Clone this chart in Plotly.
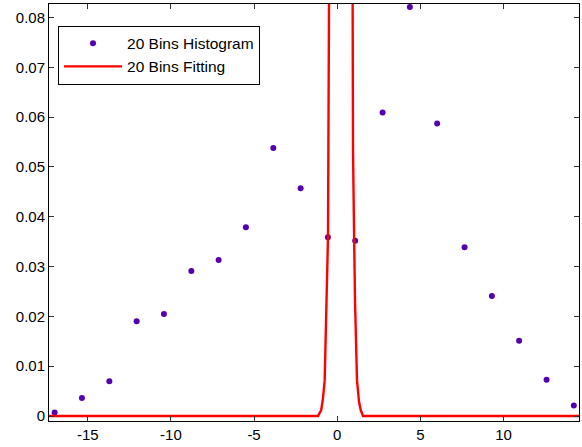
import plotly.graph_objects as go

# 20-bin histogram: bin centres and normalised counts
bin_centers = [-16.99, -15.35, -13.70, -12.06, -10.42, -8.77, -7.13, -5.49, -3.84, -2.20,
               -0.56, 1.08, 2.73, 4.37, 6.01, 7.66, 9.30, 10.94, 12.59, 14.23]
hist_values = [0.0007, 0.0036, 0.0070, 0.0190, 0.0205, 0.0291, 0.0313, 0.0379, 0.0538, 0.0457,
               0.0359, 0.0352, 0.0609, 0.0821, 0.0587, 0.0339, 0.0241, 0.0151, 0.0073, 0.0021]

# fitted density sampled along x (peak runs far above the visible range)
fit_x = [-17.33, -1.155, -0.962, -0.854, -0.752, -0.65, -0.553, -0.493, -0.445, 0.25,
         0.90, 0.95, 0.95, 1.02, 1.07, 1.19, 1.311, 1.413, 1.551, 14.54]
fit_y = [0.0, 0.0, 0.0012, 0.0036, 0.0072, 0.0233, 0.0360, 0.0827, 0.12, 0.30,
         0.12, 0.0827, 0.0534, 0.0353, 0.0233, 0.0072, 0.0029, 0.0012, 0.0, 0.0]

x_range = [-17.33, 14.54]
y_range = [-0.001, 0.0827]
x_ticks = [-15, -10, -5, 0, 5, 10]
y_ticks = [0, 0.01, 0.02, 0.03, 0.04, 0.05, 0.06, 0.07, 0.08]
y_tick_text = ["0", "0.01", "0.02", "0.03", "0.04", "0.05", "0.06", "0.07", "0.08"]

font_family = "Liberation Sans, Arial, sans-serif"

fig = go.Figure()
fig.add_trace(go.Scatter(
    x=bin_centers, y=hist_values, mode="markers", name="20 Bins Histogram",
    marker=dict(color="#5500b0", size=6),
))
fig.add_trace(go.Scatter(
    x=fit_x, y=fit_y, mode="lines", name="20 Bins Fitting",
    line=dict(color="#ff0000", width=2.4),
))

axis_common = dict(
    showline=True, linecolor="black", linewidth=1, mirror="ticks",
    ticks="inside", ticklen=5, tickcolor="#333333", tickwidth=1,
    showgrid=False, zeroline=False,
    tickfont=dict(family=font_family, size=15, color="black"),
)

fig.update_xaxes(range=x_range, tickvals=x_ticks, ticktext=[str(t) for t in x_ticks],
                 **axis_common)
fig.update_yaxes(range=y_range, tickvals=y_ticks, ticktext=y_tick_text, **axis_common)

fig.update_layout(
    width=582, height=447,
    margin=dict(l=49, r=3, t=4, b=26),
    paper_bgcolor="white", plot_bgcolor="white",
    showlegend=True,
    legend=dict(
        x=0.017, y=0.948, xanchor="left", yanchor="top",
        bordercolor="black", borderwidth=1, bgcolor="white",
        font=dict(family=font_family, size=15.5, color="black"),
        itemwidth=58, tracegroupgap=0,
    ),
)

fig.write_html("out.html")
